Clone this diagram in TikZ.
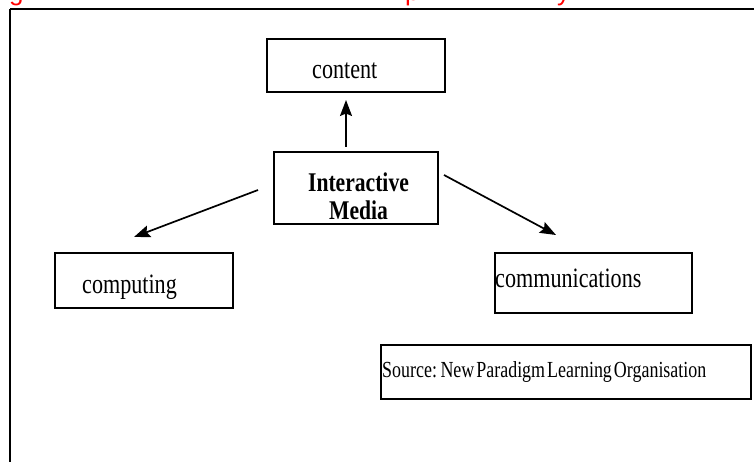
\documentclass[tikz,border=0pt]{standalone}
\usepackage{fontspec}
\setmainfont{Liberation Serif}
\newfontfamily\narrowserif[FakeStretch=0.79]{Liberation Serif}
\newfontfamily\sourceserif[FakeStretch=0.78, WordSpace=0.45]{Liberation Serif}
\newfontfamily\narrowbold[FakeStretch=0.8]{Liberation Serif Bold}
\newfontfamily\captionsans{Liberation Sans}
\usetikzlibrary{arrows.meta}

\tikzset{
  frame/.style={draw=black, line width=2.5pt},
  box/.style={draw=black, line width=2.2pt, rectangle, inner sep=0pt, outer sep=0pt, fill=white},
  lbl/.style={inner sep=0pt, font=\narrowserif\fontsize{28}{30}\selectfont},
  boldlbl/.style={inner sep=0pt, font=\narrowbold\fontsize{27}{28}\selectfont},
  srclbl/.style={inner sep=0pt, font=\sourceserif\fontsize{23}{25}\selectfont},
  caplbl/.style={inner sep=0pt, text=red, font=\captionsans\fontsize{26}{28}\selectfont},
  arr/.style={line width=1.7pt, -{Stealth[length=16pt,width=12pt,inset=2.5pt]}},
}

\begin{document}
\begin{tikzpicture}[x=1pt, y=-1pt]
  \useasboundingbox (0,0) rectangle (754,462);
  \clip (0,0) rectangle (754,462);

  % caption line above the frame, cut off by the page edge
  \node[caplbl, anchor=base west] (capg) at (9,1) {g};
  \node[caplbl, anchor=base west] (capp) at (405,1) {p};
  \node[caplbl, anchor=base west] (capy) at (557,1) {y};

  % outer frame, running past the right and bottom edges
  \draw[frame] (10,9) -- (770,9);
  \draw[frame] (10,9) -- (10,480);

  % boxes
  \node[box, minimum width=178pt, minimum height=53pt] (content) at (356,65.5) {};
  \node[box, minimum width=164pt, minimum height=72pt] (im) at (356,188) {};
  \node[box, minimum width=178pt, minimum height=55pt] (comp) at (144,280.5) {};
  \node[box, minimum width=197pt, minimum height=60pt] (comm) at (593.5,283) {};
  \node[box, minimum width=370pt, minimum height=54pt] (src) at (566,372) {};

  % labels
  \node[lbl, anchor=base west] (contentlbl) at (312,79) {content};
  \node[boldlbl, anchor=base] (imlbl1) at (358.5,192) {Interactive};
  \node[boldlbl, anchor=base] (imlbl2) at (358.5,220) {Media};
  \node[lbl, anchor=base west] (complbl) at (82,293) {computing};
  \node[lbl, anchor=base west] (commlbl) at (495,287) {communications};
  \node[srclbl, anchor=base west] (srclbl) at (382,377) {Source: New Paradigm Learning Organisation};

  % connectors
  \draw[arr] ([shift={(-10,-5)}]im.north) -- ([shift={(-10,8)}]content.south);
  \draw[arr] ([shift={(-16,2)}]im.west) -- ([shift={(-10,-16)}]comp.north);
  \draw[arr] ([shift={(6,-13)}]im.east) -- ([shift={(-37.5,-18)}]comm.north);
\end{tikzpicture}
\end{document}
